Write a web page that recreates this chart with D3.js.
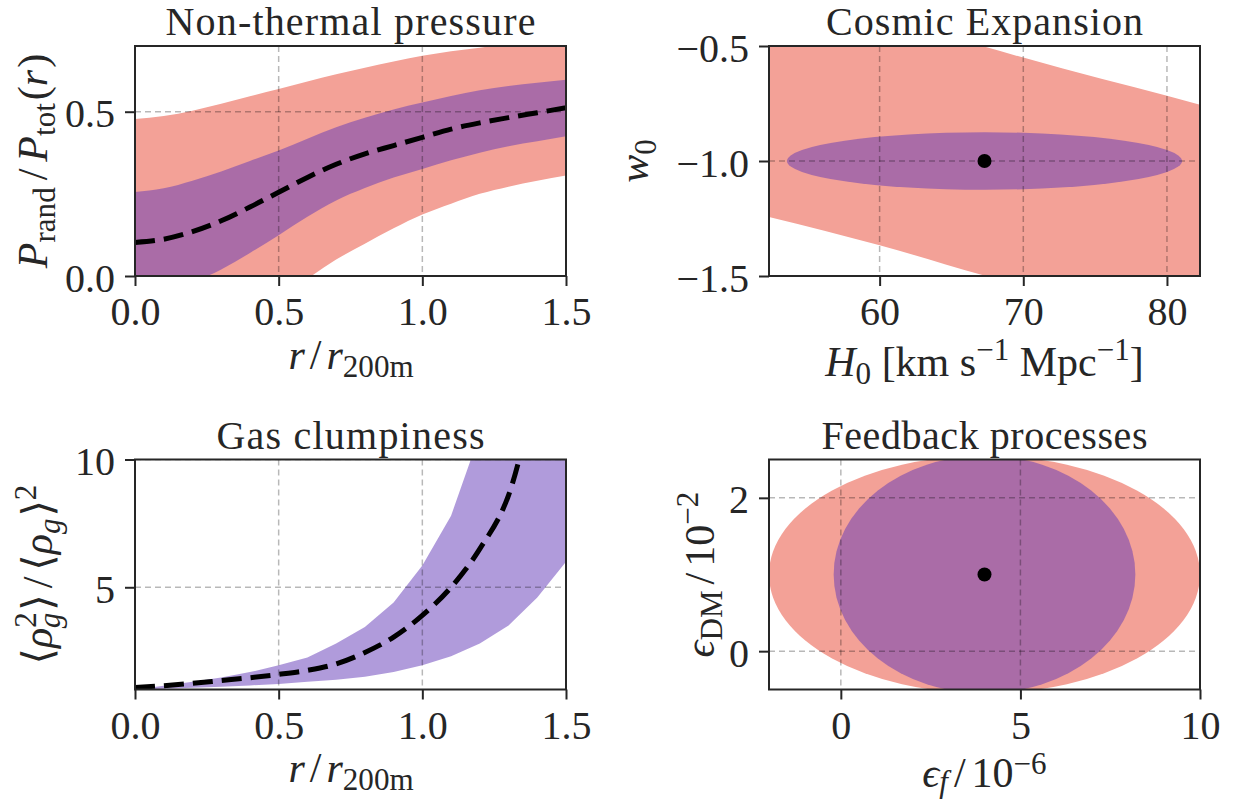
<!DOCTYPE html>
<html>
<head>
<meta charset="utf-8">
<script src="https://cdn.jsdelivr.net/npm/d3@7"></script>
<style>
  body { margin: 0; background: #fff; }
  svg text { font-family: "Liberation Serif", "DejaVu Serif", serif; fill: #262626; }
</style>
</head>
<body>
<svg id="chart" width="1234" height="800"></svg>
<script>
// ---- data ----
// non-thermal pressure profile, sampled in r/r200m
const rGrid      = [0, 0.1, 0.2, 0.3, 0.4, 0.5, 0.6, 0.7, 0.8, 0.9, 1.0, 1.1, 1.2, 1.3, 1.4, 1.5];
const ntMean     = [0.102, 0.112, 0.135, 0.168, 0.21, 0.255, 0.3, 0.34, 0.372, 0.397, 0.422, 0.447, 0.466, 0.482, 0.497, 0.512];
const ntInnerLo  = [-0.052, -0.04, -0.018, 0.02, 0.07, 0.124, 0.18, 0.23, 0.268, 0.3, 0.326, 0.352, 0.375, 0.395, 0.41, 0.425];
const ntInnerHi  = [0.256, 0.267, 0.29, 0.318, 0.35, 0.382, 0.418, 0.453, 0.482, 0.507, 0.528, 0.548, 0.565, 0.578, 0.588, 0.597];
const ntOuterLo  = [-0.27, -0.26, -0.23, -0.19, -0.13, -0.06, -0.008, 0.05, 0.098, 0.145, 0.187, 0.22, 0.25, 0.272, 0.29, 0.306];
const ntOuterHi  = [0.478, 0.487, 0.503, 0.524, 0.547, 0.569, 0.592, 0.614, 0.634, 0.653, 0.67, 0.684, 0.695, 0.705, 0.714, 0.722];

// gas clumpiness, same r grid
const clMean = [1.08, 1.15, 1.24, 1.35, 1.46, 1.59, 1.75, 2.0, 2.45, 3.05, 3.9, 5.0, 6.5, 8.6, 12.7, 16.0];
const clLo   = [1.0, 1.03, 1.07, 1.11, 1.16, 1.22, 1.3, 1.38, 1.5, 1.68, 1.95, 2.3, 2.8, 3.5, 4.6, 6.0];
const clHi   = [1.0, 1.15, 1.3, 1.47, 1.68, 1.95, 2.25, 2.8, 3.45, 4.4, 5.85, 7.8, 11.0, 15.0, 20.0, 26.0];

// cosmic expansion: degeneracy band in (H0, w0) and inner ellipse
const h0Grid   = [52.3, 60, 67.15, 70, 75.5, 80, 82.3];
const w0BandHi = [-0.25, -0.378, -0.5, -0.5505, -0.644, -0.716, -0.755];
const w0BandLo = [-1.243, -1.366, -1.496, -1.545, -1.64, -1.715, -1.755];
const cosmoCenter = [67.3, -1.0];
const cosmoRadii  = [13.75, 0.125];

// feedback processes: two ellipses around the fiducial point
const fbCenter     = [4, 1];
const fbOuterRadii = [6, 1.55];
const fbInnerRadii = [4.2, 1.55];

// ticks
const rTicks   = [0, 0.5, 1.0, 1.5];
const ntYTicks = [0, 0.5];
const h0Ticks  = [60, 70, 80];
const w0Ticks  = [-1.5, -1.0, -0.5];
const clYTicks = [5, 10];
const efTicks  = [0, 5, 10];
const edmTicks = [0, 2];

// ---- drawing ----
const svg = d3.select('#chart');
const W = 431, H = 230, FS = 40, LFS = 42;
const INK = '#262626';
const RED = '#f3a197';
const PURPLE = 'rgb(97,55,183)';

function makePanel(id, left, top, xDomain, yDomain) {
  const g = svg.append('g').attr('transform', `translate(${left},${top})`);
  const x = d3.scaleLinear().domain(xDomain).range([0, W]);
  const y = d3.scaleLinear().domain(yDomain).range([H, 0]);
  svg.append('clipPath').attr('id', id).append('rect').attr('width', W).attr('height', H);
  const plot = g.append('g').attr('clip-path', `url(#${id})`);
  return { g, x, y, plot, left, top };
}

function grid(p, xt, yt) {
  const gg = p.plot.append('g');
  gg.selectAll('.gx').data(xt).enter().append('line')
    .attr('x1', d => p.x(d)).attr('x2', d => p.x(d)).attr('y1', 0).attr('y2', H);
  gg.selectAll('.gy').data(yt).enter().append('line')
    .attr('y1', d => p.y(d)).attr('y2', d => p.y(d)).attr('x1', 0).attr('x2', W);
  gg.selectAll('line').attr('stroke', '#000').attr('stroke-opacity', 0.28)
    .attr('stroke-width', 1.5).attr('stroke-dasharray', '6,4');
}

function axes(p, xt, yt, xfmt, yfmt) {
  const ax = p.g.append('g').attr('transform', `translate(0,${H})`)
    .call(d3.axisBottom(p.x).tickValues(xt).tickSize(10).tickFormat(xfmt));
  const ay = p.g.append('g')
    .call(d3.axisLeft(p.y).tickValues(yt).tickSize(10).tickFormat(yfmt));
  [ax, ay].forEach(a => {
    a.select('.domain').remove();
    a.selectAll('line').attr('stroke', INK).attr('stroke-width', 2);
    a.selectAll('text').attr('font-size', FS).attr('fill', INK)
      .attr('font-family', '"Liberation Serif", "DejaVu Serif", serif');
  });
  ax.selectAll('text').attr('y', 49).attr('dy', null);
  ay.selectAll('text').attr('x', -20).attr('y', 15).attr('dy', null);
  p.g.append('rect').attr('width', W).attr('height', H)
    .attr('fill', 'none').attr('stroke', INK).attr('stroke-width', 2);
}

function title(p, txt, len) {
  svg.append('text').attr('x', p.left + W / 2).attr('y', p.top - 11)
    .attr('text-anchor', 'middle').attr('font-size', FS)
    .attr('textLength', len).attr('lengthAdjust', 'spacing').text(txt);
}

// axis label with italic symbols, sub- and superscripts
function mathLabel(x, y, rotate, parts, subOff = 0.2, supOff = 0.38) {
  const t = svg.append('text')
    .attr('transform', `translate(${x},${y})` + (rotate ? ' rotate(-90)' : ''))
    .attr('text-anchor', 'middle').attr('font-size', LFS);
  let cur = 0;
  parts.forEach(pt => {
    const off = pt.s === 'sub' ? subOff * LFS : pt.s === 'sup' ? -supOff * LFS : 0;
    const ts = t.append('tspan').attr('dy', off - cur)
      .attr('font-size', pt.s ? LFS * 0.74 : LFS)
      .attr('font-style', pt.i ? 'italic' : 'normal')
      .text(pt.t);
    if (pt.dx) ts.attr('dx', pt.dx);
    cur = off;
  });
}

const f1 = d3.format('.1f');
const f0 = d3.format('d');

// panel 1: non-thermal pressure
const p1 = makePanel('c1', 135, 46, [0, 1.5], [0, 0.7]);
const rows = rGrid.map((r, i) => ({ r, m: ntMean[i], il: ntInnerLo[i], ih: ntInnerHi[i], ol: ntOuterLo[i], oh: ntOuterHi[i] }));
p1.plot.append('path').datum(rows).attr('fill', RED)
  .attr('d', d3.area().curve(d3.curveMonotoneX).x(d => p1.x(d.r)).y0(d => p1.y(d.ol)).y1(d => p1.y(d.oh)));
p1.plot.append('path').datum(rows).attr('fill', PURPLE).attr('fill-opacity', 0.5)
  .attr('d', d3.area().curve(d3.curveMonotoneX).x(d => p1.x(d.r)).y0(d => p1.y(d.il)).y1(d => p1.y(d.ih)));
grid(p1, rTicks, ntYTicks);
p1.plot.append('path').datum(rows).attr('fill', 'none').attr('stroke', '#000')
  .attr('stroke-width', 5).attr('stroke-dasharray', '20,9')
  .attr('d', d3.line().curve(d3.curveMonotoneX).x(d => p1.x(d.r)).y(d => p1.y(d.m)));
axes(p1, rTicks, ntYTicks, f1, f1);
title(p1, 'Non-thermal pressure', 370);

// panel 2: cosmic expansion
const p2 = makePanel('c2', 769, 46, [52.3, 82.3], [-1.5, -0.5]);
const band = h0Grid.map((h, i) => ({ h, lo: w0BandLo[i], hi: w0BandHi[i] }));
p2.plot.append('path').datum(band).attr('fill', RED)
  .attr('d', d3.area().curve(d3.curveMonotoneX).x(d => p2.x(d.h)).y0(d => p2.y(d.lo)).y1(d => p2.y(d.hi)));
p2.plot.append('ellipse')
  .attr('cx', p2.x(cosmoCenter[0])).attr('cy', p2.y(cosmoCenter[1]))
  .attr('rx', p2.x(cosmoCenter[0] + cosmoRadii[0]) - p2.x(cosmoCenter[0]))
  .attr('ry', p2.y(cosmoCenter[1]) - p2.y(cosmoCenter[1] + cosmoRadii[1]))
  .attr('fill', PURPLE).attr('fill-opacity', 0.5);
grid(p2, h0Ticks, w0Ticks);
p2.plot.append('circle').attr('cx', p2.x(cosmoCenter[0])).attr('cy', p2.y(cosmoCenter[1])).attr('r', 7).attr('fill', '#000');
axes(p2, h0Ticks, w0Ticks, f0, f1);
title(p2, 'Cosmic Expansion', 317);

// panel 3: gas clumpiness
const p3 = makePanel('c3', 135, 459.5, [0, 1.5], [1, 10]);
const crow = rGrid.map((r, i) => ({ r, m: clMean[i], lo: clLo[i], hi: clHi[i] }));
p3.plot.append('path').datum(crow).attr('fill', PURPLE).attr('fill-opacity', 0.5)
  .attr('d', d3.area().x(d => p3.x(d.r)).y0(d => p3.y(d.lo)).y1(d => p3.y(d.hi)));
grid(p3, rTicks, clYTicks);
p3.plot.append('path').datum(crow).attr('fill', 'none').attr('stroke', '#000')
  .attr('stroke-width', 5).attr('stroke-dasharray', '20,9')
  .attr('d', d3.line().curve(d3.curveMonotoneX).x(d => p3.x(d.r)).y(d => p3.y(d.m)));
axes(p3, rTicks, clYTicks, f1, f0);
title(p3, 'Gas clumpiness', 268);

// panel 4: feedback processes
const p4 = makePanel('c4', 769, 459.5, [-2, 10], [-0.5, 2.5]);
[[fbOuterRadii, RED, 1], [fbInnerRadii, PURPLE, 0.5]].forEach(([rad, col, op]) => {
  p4.plot.append('ellipse')
    .attr('cx', p4.x(fbCenter[0])).attr('cy', p4.y(fbCenter[1]))
    .attr('rx', p4.x(fbCenter[0] + rad[0]) - p4.x(fbCenter[0]))
    .attr('ry', p4.y(fbCenter[1]) - p4.y(fbCenter[1] + rad[1]))
    .attr('fill', col).attr('fill-opacity', op);
});
grid(p4, efTicks, edmTicks);
p4.plot.append('circle').attr('cx', p4.x(fbCenter[0])).attr('cy', p4.y(fbCenter[1])).attr('r', 7).attr('fill', '#000');
axes(p4, efTicks, edmTicks, f0, f0);
title(p4, 'Feedback processes', 326);

// axis labels
mathLabel(47, 161, true, [
  { t: 'P', i: 1 }, { t: 'rand', s: 'sub' }, { t: '/', dx: 7 }, { t: 'P', i: 1, dx: 7 }, { t: 'tot', s: 'sub' },
  { t: '(', dx: 3 }, { t: 'r', i: 1 }, { t: ')', dx: 2 }
]);
mathLabel(351, 369, false, [{ t: 'r', i: 1 }, { t: '/', dx: 5 }, { t: 'r', i: 1, dx: 5 }, { t: '200m', s: 'sub' }]);
mathLabel(648, 161, true, [{ t: 'w', i: 1 }, { t: '0', s: 'sub' }]);
mathLabel(984.5, 376, false, [
  { t: 'H', i: 1 }, { t: '0', s: 'sub' }, { t: ' [km s' }, { t: '\u22121', s: 'sup' }, { t: ' Mpc' }, { t: '\u22121', s: 'sup' }, { t: ']' }
]);
mathLabel(52, 574.5, true, [
  { t: '\u27E8' }, { t: '\u03C1', i: 1 }, { t: '2', s: 'sup' }, { t: 'g', s: 'sub', i: 1, dx: -16 }, { t: '\u27E9', dx: 2 },
  { t: '/', dx: 6 }, { t: '\u27E8', dx: 6 }, { t: '\u03C1', i: 1 }, { t: 'g', s: 'sub', i: 1 }, { t: '\u27E9', dx: 2 }, { t: '2', s: 'sup' }
]);
mathLabel(351, 782, false, [{ t: 'r', i: 1 }, { t: '/', dx: 5 }, { t: 'r', i: 1, dx: 5 }, { t: '200m', s: 'sub' }]);
mathLabel(714, 574.5, true, [{ t: '\u03F5', i: 1 }, { t: 'DM', s: 'sub' }, { t: '/', dx: 6 }, { t: '10', dx: 6 }, { t: '\u22122', s: 'sup' }]);
mathLabel(984.5, 787, false, [{ t: '\u03F5', i: 1 }, { t: 'f', s: 'sub', i: 1 }, { t: '/', dx: 6 }, { t: '10', dx: 6 }, { t: '\u22126', s: 'sup' }], 0.12, 0.3);
</script>
</body>
</html>
